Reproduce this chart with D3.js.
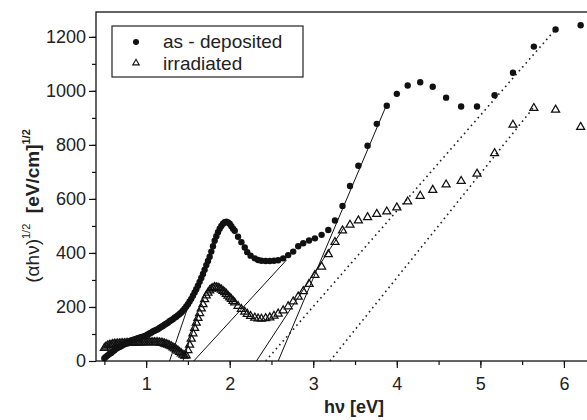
<html lang="en">
<head>
<meta charset="UTF-8">
<title>Optical gap plot</title>
<style>
  body { margin: 0; background: #fff; }
  svg text { font-family: "Liberation Sans", Arial, sans-serif; fill: #222; }
</style>
</head>
<body>
<script src="https://d3js.org/d3.v7.min.js"></script>
<script>

const w = 587;
const h = 420;

// photon energy (eV), shared by both series
const energy = [
    0.50, 0.52, 0.54, 0.56, 0.58, 0.60, 0.62, 0.64, 0.66, 0.68,
    0.70, 0.72, 0.74, 0.76, 0.78, 0.80, 0.82, 0.84, 0.86, 0.88,
    0.90, 0.92, 0.94, 0.96, 0.98, 1.00, 1.02, 1.04, 1.06, 1.08,
    1.10, 1.12, 1.14, 1.16, 1.18, 1.20, 1.22, 1.24, 1.26, 1.28,
    1.30, 1.32, 1.34, 1.36, 1.38, 1.40, 1.42, 1.44, 1.46, 1.48,
    1.50, 1.52, 1.54, 1.56, 1.58, 1.60, 1.62, 1.64, 1.66, 1.68,
    1.70, 1.72, 1.74, 1.76, 1.78, 1.80, 1.82, 1.84, 1.86, 1.88,
    1.90, 1.92, 1.94, 1.96, 1.98, 2.00, 2.02, 2.04, 2.06, 2.10,
    2.14, 2.18, 2.21, 2.25, 2.30, 2.34, 2.38, 2.43, 2.48, 2.53,
    2.58, 2.64, 2.70, 2.76, 2.82, 2.88, 2.95, 3.02, 3.10, 3.18,
    3.26, 3.35, 3.44, 3.54, 3.65, 3.76, 3.88, 4.00, 4.13, 4.28,
    4.43, 4.59, 4.77, 4.96, 5.17, 5.39, 5.64, 5.90, 6.20];

const asDeposited = [
    10, 16, 21, 26, 30, 35, 40, 45, 49, 52,
    55, 59, 62, 66, 69, 72, 75, 78, 80, 82,
    84, 86, 88, 90, 92, 95, 98, 102, 105, 109,
    112, 115, 118, 122, 126, 130, 134, 138, 142, 147,
    151, 155, 160, 164, 169, 174, 180, 186, 194, 202,
    210, 220, 230, 242, 254, 266, 279, 293, 307, 322,
    338, 355, 370, 386, 405, 425, 445, 462, 477, 490,
    500, 508, 514, 516, 513, 508, 499, 490, 482, 460,
    440, 420, 403, 390, 380, 374, 371, 370, 370, 371,
    373, 380, 392, 405, 425, 436, 446, 454, 467, 485,
    520, 574, 648, 723, 797, 878, 945, 989, 1020, 1032,
    1015, 975, 942, 942, 984, 1067, 1164, 1227, 1243];

const irradiated = [
    48, 53, 57, 59, 60, 62, 63, 63, 64, 64,
    65, 65, 65, 66, 66, 66, 67, 67, 67, 68,
    68, 68, 68, 69, 69, 69, 69, 69, 69, 69,
    69, 69, 69, 68, 67, 66, 64, 62, 60, 57,
    54, 50, 46, 42, 38, 33, 28, 23, 19, 20,
    40, 60, 82, 102, 122, 141, 159, 177, 194, 210,
    228, 242, 252, 261, 267, 270, 273, 272, 271, 268,
    264, 259, 254, 248, 241, 235, 229, 222, 216, 203,
    192, 182, 174, 166, 160, 157, 156, 158, 161, 167,
    175, 187, 202, 220, 238, 258, 285, 318, 349, 395,
    440, 483, 504, 520, 532, 544, 553, 568, 590, 611,
    633, 653, 666, 693, 769, 874, 936, 930, 866];

// linear fits: [x1, y1, x2, y2]
const solidFits = [
    [1.28, 0, 1.55, 245],
    [1.44, 0, 1.62, 170],
    [1.57, 0, 2.68, 374],
    [2.32, 0, 3.37, 495],
    [2.58, 0, 3.88, 950]];
const dottedFits = [
    [2.43, 0, 5.92, 1235],
    [3.20, 0, 5.64, 940]];

const xTicks = [1, 2, 3, 4, 5, 6];
const yTicks = [0, 200, 400, 600, 800, 1000, 1200];
const seriesNames = ["as - deposited", "irradiated"];

const svg = d3.select("body").append("svg")
    .attr("width", w)
    .attr("height", h);

const xScale = d3.scaleLinear().domain([0.4, 6.3]).range([96, 589]);
const yScale = d3.scaleLinear().domain([0, 1292]).range([361, 12]);

// frame
svg.append("rect")
    .attr("x", xScale(0.4)).attr("y", yScale(1292))
    .attr("width", xScale(6.3) - xScale(0.4))
    .attr("height", yScale(0) - yScale(1292))
    .attr("fill", "none").attr("stroke", "#111").attr("stroke-width", 1.3);

// minor ticks
svg.append("g")
    .attr("transform", "translate(0," + yScale(0) + ")")
    .call(d3.axisBottom(xScale).tickValues(d3.range(0.5, 6.3, 0.5)).tickSize(4).tickFormat(""))
    .call(g => g.select(".domain").remove())
    .selectAll("line").attr("stroke", "#111").attr("stroke-width", 1.2);
svg.append("g")
    .attr("transform", "translate(" + xScale(0.4) + ",0)")
    .call(d3.axisLeft(yScale).tickValues(d3.range(100, 1292, 100)).tickSize(4).tickFormat(""))
    .call(g => g.select(".domain").remove())
    .selectAll("line").attr("stroke", "#111").attr("stroke-width", 1.2);

// major ticks
const xAxis = svg.append("g")
    .attr("transform", "translate(0," + yScale(0) + ")")
    .call(d3.axisBottom(xScale).tickValues(xTicks).tickSize(7).tickPadding(9).tickFormat(d3.format("d")));
const yAxis = svg.append("g")
    .attr("transform", "translate(" + xScale(0.4) + ",0)")
    .call(d3.axisLeft(yScale).tickValues(yTicks).tickSize(7).tickPadding(3).tickFormat(d3.format("d")));
[xAxis, yAxis].forEach(a => {
    a.select(".domain").remove();
    a.selectAll("line").attr("stroke", "#111").attr("stroke-width", 1.2);
    a.selectAll("text").attr("font-size", 18).attr("fill", "#222")
        .style("font-family", "'Liberation Sans', Arial, sans-serif");
});

// fit lines
svg.selectAll(".fit")
    .data(solidFits)
    .enter().append("line")
    .attr("class", "fit")
    .attr("x1", d => xScale(d[0])).attr("y1", d => yScale(d[1]))
    .attr("x2", d => xScale(d[2])).attr("y2", d => yScale(d[3]))
    .attr("stroke", "#111").attr("stroke-width", 1);

svg.selectAll(".dotfit")
    .data(dottedFits)
    .enter().append("line")
    .attr("class", "dotfit")
    .attr("x1", d => xScale(d[0])).attr("y1", d => yScale(d[1]))
    .attr("x2", d => xScale(d[2])).attr("y2", d => yScale(d[3]))
    .attr("stroke", "#222").attr("stroke-width", 1.6)
    .attr("stroke-dasharray", "1.6 3.6");

// irradiated: open triangles
const tri = d3.symbol().type(d3.symbolTriangle).size(28);
svg.append("g").selectAll("path")
    .data(energy.map((e, i) => [e, irradiated[i]]))
    .enter().append("path")
    .attr("d", tri)
    .attr("transform", d => "translate(" + xScale(d[0]) + "," + yScale(d[1]) + ")")
    .attr("fill", "none").attr("stroke", "#111").attr("stroke-width", 1.25);

// as-deposited: filled circles
svg.append("g").selectAll("circle")
    .data(energy.map((e, i) => [e, asDeposited[i]]))
    .enter().append("circle")
    .attr("cx", d => xScale(d[0]))
    .attr("cy", d => yScale(d[1]))
    .attr("r", 3.2)
    .attr("fill", "#111");

// legend
const legend = svg.append("g");
legend.append("rect")
    .attr("x", 112).attr("y", 26).attr("width", 191).attr("height", 51)
    .attr("fill", "#fff").attr("stroke", "#222").attr("stroke-width", 1.2);
legend.append("circle").attr("cx", 136).attr("cy", 42).attr("r", 3).attr("fill", "#111");
legend.append("path").attr("d", d3.symbol().type(d3.symbolTriangle).size(18))
    .attr("transform", "translate(136,63)")
    .attr("fill", "none").attr("stroke", "#111").attr("stroke-width", 1.1);
legend.selectAll(".lab")
    .data(seriesNames)
    .enter().append("text")
    .attr("class", "lab")
    .attr("x", 163)
    .attr("y", (d, i) => 48 + i * 22)
    .attr("font-size", 19)
    .text(d => d);

// axis titles
svg.append("text")
    .attr("x", 354).attr("y", 413)
    .attr("text-anchor", "middle")
    .attr("font-size", 18).attr("font-weight", "bold")
    .text("h\u03bd [eV]");

const yTitle = svg.append("text")
    .attr("transform", "translate(39,206) rotate(-90)")
    .attr("text-anchor", "middle")
    .attr("font-size", 19);
yTitle.append("tspan").text("(\u03b1h\u03bd)");
yTitle.append("tspan").attr("font-size", 11).attr("dy", -9).text("1/2");
yTitle.append("tspan").attr("dy", 9).attr("font-weight", "bold").text("\u00a0\u00a0[eV/cm]");
yTitle.append("tspan").attr("font-size", 11).attr("dy", -9).attr("font-weight", "bold").text("1/2");

</script>
</body>
</html>
